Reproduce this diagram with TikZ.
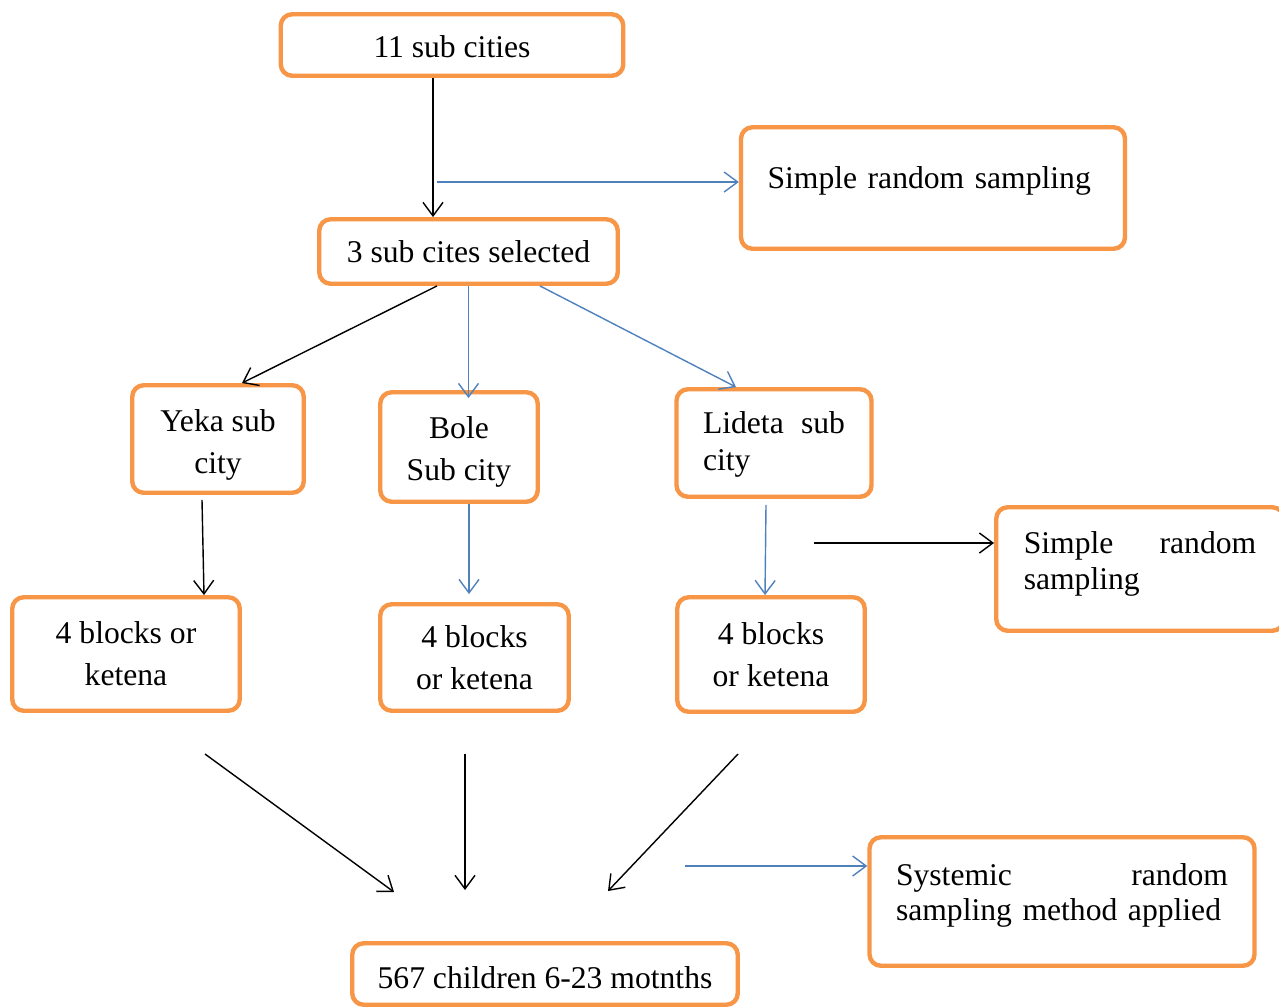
\documentclass[tikz,border=0pt]{standalone}
\usepackage{fontspec}
\setmainfont{Liberation Serif}
\usetikzlibrary{arrows.meta,positioning,calc}
\definecolor{frame}{HTML}{F79646}
\definecolor{linkblue}{HTML}{4F81BD}
\newcommand{\padtop}[1]{\rule{0pt}{#1}}
\newcommand{\padbot}[1]{\rule[-#1]{0pt}{#1}}
\tikzset{
  stage/.style={draw=frame,fill=white,line width=2.5pt,rounded corners=6.5pt,
    align=center,inner sep=0pt,font=\fontsize{18}{24}\selectfont},
  note/.style={stage,align=left,inner xsep=0.53cm},
  arrow/.style={-{Straight Barb[length=2.7mm,width=4mm]},draw=black,line width=0.8pt},
  relation/.style={arrow,draw=linkblue}
}
\begin{document}
\begin{tikzpicture}
  \useasboundingbox (0,0) rectangle (25.58,-20.14);
  \node[stage,minimum width=6.85cm,minimum height=1.23cm] (cities) at (9.04,-0.90) {\padtop{14.6pt}11 sub cities};
  \node[note,text width=6.62cm,minimum height=2.43cm,text height=0.43cm,text depth=0.43cm] (srs1) at (18.66,-3.76) {Simple random sampling};
  \node[stage,minimum width=5.97cm,minimum height=1.29cm] (selected) at (9.37,-5.03) {3 sub cites selected};
  \node[stage,minimum width=3.43cm,minimum height=2.15cm] (yeka) at (4.36,-8.78) {\padtop{19pt}Yeka sub\\city};
  \node[stage,minimum width=3.15cm,minimum height=2.19cm] (bole) at (9.18,-8.94) {\padtop{18pt}Bole\\Sub city};
  \node[note,text width=2.84cm,minimum height=2.15cm,font=\fontsize{18}{21}\selectfont] (lideta) at (15.48,-8.86) {\padtop{14.6pt}Lideta\hfill sub\\city};
  \node[stage,minimum width=4.55cm,minimum height=2.27cm] (blocksL) at (2.52,-13.08) {4 blocks or\\ketena};
  \node[stage,minimum width=3.77cm,minimum height=2.13cm] (blocksM) at (9.49,-13.15) {4 blocks\\or ketena};
  \node[stage,minimum width=3.75cm,minimum height=2.29cm] (blocksR) at (15.42,-13.09) {4 blocks\\or ketena};
  \node[note,text width=4.65cm,minimum width=5.75cm,minimum height=2.47cm,font=\fontsize{18}{20}\selectfont] (srs2) at (22.80,-11.38) {Simple\hfill random\\sampling\padbot{9.6pt}};
  \node[note,text width=6.64cm,minimum height=2.57cm,font=\fontsize{18}{20}\selectfont] (systemic) at (21.24,-18.03) {Systemic\hfill random\\sampling method applied\padbot{10.7pt}};
  \node[stage,minimum width=7.71cm,minimum height=1.23cm] (children) at (10.90,-19.48) {\padtop{16.9pt}567 children 6-23 motnths};
  \coordinate (split) at (8.74,-3.64);
  \coordinate (side) at (16.28,-10.86);
  \coordinate (final) at (13.70,-17.32);
  \coordinate (mergeL) at (4.10,-15.08);
  \coordinate (mergeM) at (9.30,-15.08);
  \coordinate (mergeR) at (14.76,-15.08);
  \coordinate (intoL) at (7.88,-17.84);
  \coordinate (intoM) at (9.30,-17.80);
  \coordinate (intoR) at (12.16,-17.82);
  \draw[arrow] ([xshift=-0.38cm]cities.south) -- ([xshift=-0.38cm]cities.south |- selected.north);
  \draw[relation] (split) -- (split -| srs1.west);
  \draw[arrow] ([xshift=-0.63cm]selected.south) -- ([xshift=0.48cm]yeka.north);
  \draw[relation] (selected.south) -- ([yshift=-0.16cm]selected.south |- bole.north);
  \draw[relation] ([xshift=1.43cm]selected.south) -- ([xshift=-0.76cm]lideta.north);
  \draw[arrow] ([xshift=-0.32cm,yshift=-0.1cm]yeka.south) -- ([xshift=1.56cm]blocksL.north);
  \draw[relation] ([xshift=0.2cm]bole.south) -- ([xshift=0.2cm,yshift=0.16cm]bole.south |- blocksM.north);
  \draw[relation] ([xshift=-0.16cm,yshift=-0.12cm]lideta.south) -- ([xshift=-0.12cm]blocksR.north);
  \draw[arrow] (side) -- (side -| srs2.west);
  \draw[arrow] (mergeL) -- (intoL);
  \draw[arrow] (mergeM) -- (intoM);
  \draw[arrow] (mergeR) -- (intoR);
  \draw[relation] (final) -- (final -| systemic.west);
\end{tikzpicture}
\end{document}
